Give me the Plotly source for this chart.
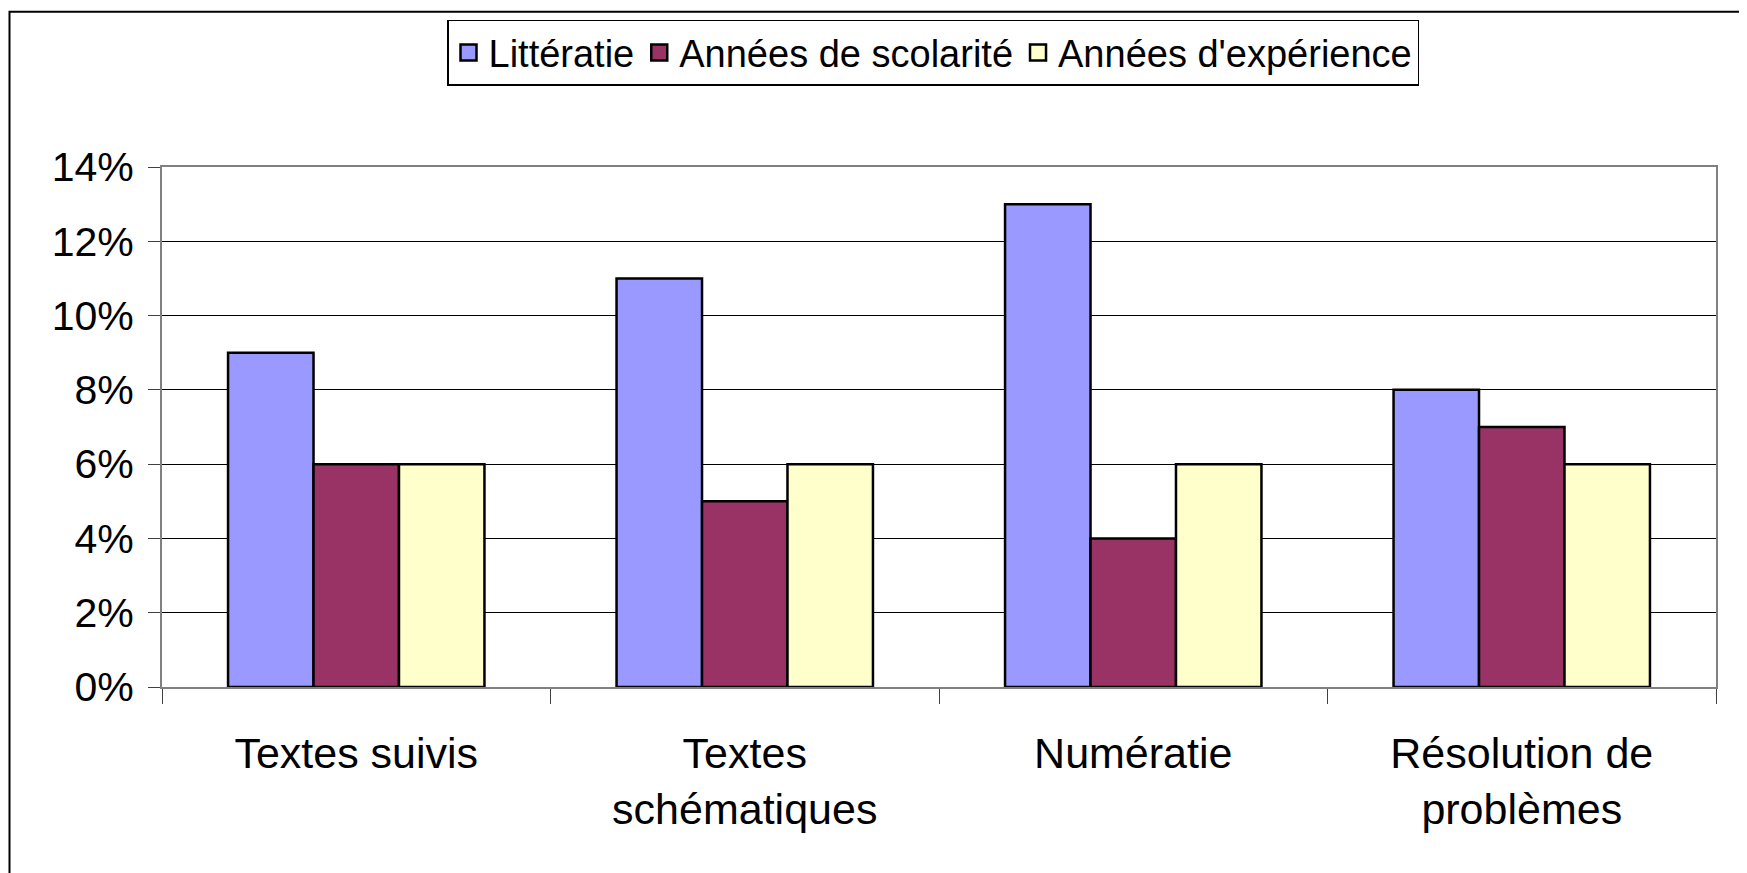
import plotly.graph_objects as go

categories = ["Textes suivis", "Textes<br>schématiques", "Numératie", "Résolution de<br>problèmes"]
series_names = ["Littératie", "Années de scolarité", "Années d'expérience"]
litteratie = [0.09, 0.11, 0.13, 0.08]
scolarite = [0.06, 0.05, 0.04, 0.07]
experience = [0.06, 0.06, 0.06, 0.06]
colors = ["#9999FF", "#993366", "#FFFFCC"]
y_ticks = [0, 0.02, 0.04, 0.06, 0.08, 0.10, 0.12, 0.14]
y_tick_labels = ["0%", "2%", "4%", "6%", "8%", "10%", "12%", "14%"]

FONT = "Liberation Sans, Arial, sans-serif"

# plot area in figure pixels
L, R, T, B = 154, 1708, 157, 679.5
W, H = R - L, B - T

fig = go.Figure()
for name, vals, col in zip(series_names, [litteratie, scolarite, experience], colors):
    fig.add_trace(go.Bar(
        x=categories, y=vals, name=name, showlegend=False,
        marker=dict(color=col, line=dict(color="black", width=2.5)),
    ))
# legend entries with larger square swatches
for name, col in zip(series_names, colors):
    fig.add_trace(go.Scatter(
        x=[None], y=[None], mode="markers", name=name,
        marker=dict(symbol="square", size=16, color=col, line=dict(color="black", width=2.5)),
    ))

def px_x(v):
    return (v - L) / W

def px_y(v):
    return (B - v) / H

fig.update_layout(
    width=1747, height=873,
    margin=dict(l=L, r=1747 - R, t=T, b=873 - B),
    paper_bgcolor="white", plot_bgcolor="white",
    barmode="group", bargap=0.34, bargroupgap=0,
    font=dict(family=FONT, color="black", size=41),
    showlegend=True,
    legend=dict(
        orientation="h", x=px_x(925), xanchor="center", y=px_y(9), yanchor="top",
        bordercolor="black", borderwidth=1.5, bgcolor="white",
        font=dict(size=38, family=FONT), itemsizing="trace",
        traceorder="normal", itemwidth=30,
    ),
    xaxis=dict(
        showgrid=False, ticks="outside", tickson="boundaries", ticklen=15,
        tickcolor="#404040", tickwidth=1,
        showline=True, linecolor="#808080", linewidth=2, mirror=True,
        tickfont=dict(size=43), ticklabelstandoff=27,
    ),
    yaxis=dict(
        range=[0, 0.14], tickvals=y_ticks, ticktext=y_tick_labels,
        showgrid=True, gridcolor="black", gridwidth=1,
        ticks="outside", ticklen=12, tickcolor="#404040", tickwidth=1,
        showline=True, linecolor="#808080", linewidth=2, mirror=True,
        tickfont=dict(size=41), ticklabelstandoff=6, zeroline=False,
    ),
    shapes=[dict(
        type="rect", xref="paper", yref="paper",
        x0=px_x(1.5), x1=px_x(1735),
        y0=px_y(890), y1=px_y(1),
        line=dict(color="black", width=2), fillcolor="rgba(0,0,0,0)", layer="below",
    )],
)

fig.write_html("out.html")
